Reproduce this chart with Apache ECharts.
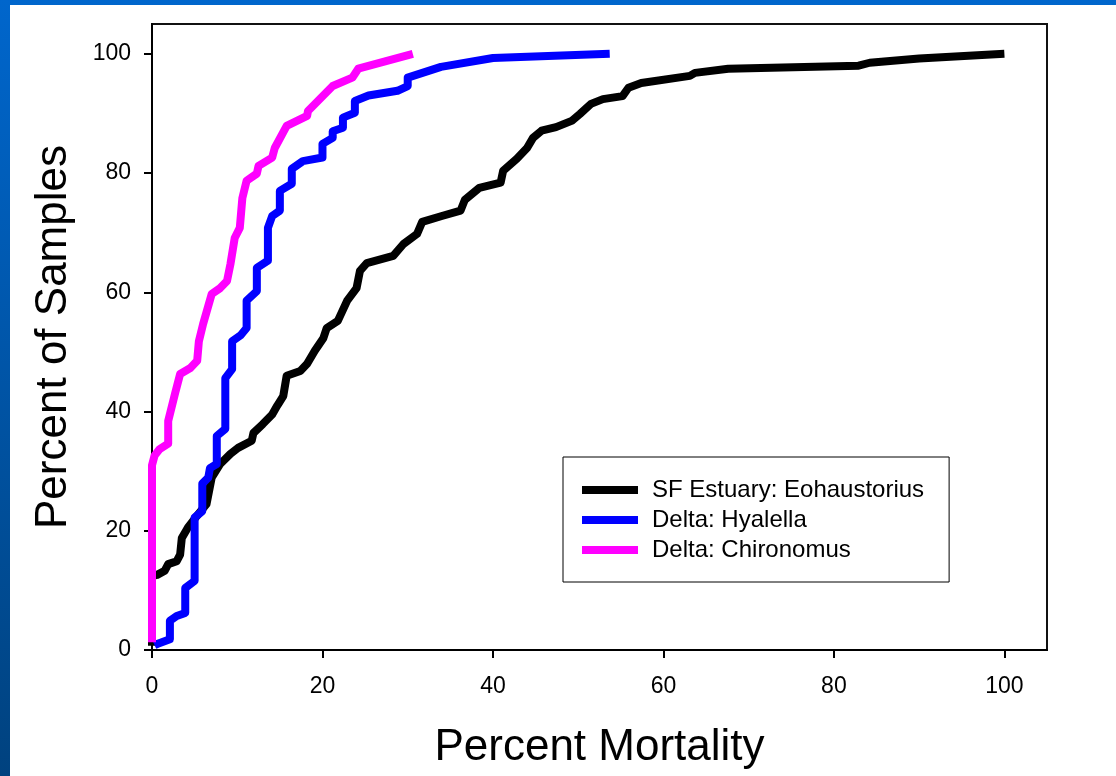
<!DOCTYPE html>
<html>
<head>
<meta charset="utf-8">
<title>Percent Mortality</title>
<script src="https://cdn.jsdelivr.net/npm/echarts@6/dist/echarts.min.js"></script>
<style>
  html, body { margin: 0; padding: 0; width: 1116px; height: 776px; overflow: hidden;
    background: linear-gradient(#0066cc, #00427f); }
  #chart { position: absolute; left: 10px; top: 5px; width: 1106px; height: 771px; background: #ffffff; }
</style>
</head>
<body>
<div id="chart"></div>
<script>
// Cumulative distribution of percent mortality per test organism: [mortality %, % of samples]
const seriesNames = ['SF Estuary: Eohaustorius', 'Delta: Hyalella', 'Delta: Chironomus'];
const seriesColors = ['#000000', '#0000ff', '#ff00ff'];

const eohaustorius = [
  [0, 0.7], [0, 12.4], [0.6, 12.6], [1.5, 13.3], [1.9, 14.4], [2.9, 14.9], [3.3, 16], [3.5, 18.8],
  [4.2, 20.5], [5, 22], [6.4, 24.5], [7, 28.9], [8, 31.2], [9.2, 32.9], [10.1, 33.9], [11.7, 35.1],
  [11.9, 36.4], [13, 37.9], [14.1, 39.5], [14.7, 41], [15.4, 42.6], [15.8, 46], [17.4, 46.8],
  [18.2, 48], [19.1, 50.2], [20.1, 52.3], [20.5, 54], [21.8, 55.2], [22.9, 58.6], [24, 60.7],
  [24.4, 63.6], [25.2, 64.9], [28.3, 66.1], [29.5, 68.1], [31.1, 69.8], [31.7, 71.8], [34, 72.8],
  [36.2, 73.7], [36.7, 75.5], [38.4, 77.5], [40.9, 78.4], [41.2, 80.4], [42.8, 82.4], [44, 84.2],
  [44.7, 85.9], [45.7, 87.1], [47.4, 87.7], [49.3, 88.8], [50.2, 89.9], [51.5, 91.6], [52.9, 92.4],
  [55.2, 92.9], [55.9, 94.3], [57.4, 95.1], [63.1, 96.3], [63.7, 96.8], [67.6, 97.5], [82.9, 98],
  [84.2, 98.5], [90, 99.2], [100, 100]
];

const hyalella = [
  [0.3, 0.8], [0.6, 1], [2.1, 1.8], [2.1, 4.9], [2.9, 5.7], [3.9, 6.2], [3.9, 10.4], [5, 11.6],
  [5, 22.2], [5.9, 23.3], [5.9, 27.9], [6.6, 28.9], [6.8, 30.5], [7.6, 31.2], [7.6, 35.9],
  [8.6, 37.1], [8.6, 45.6], [9.4, 47.1], [9.4, 51.8], [10.4, 52.8], [11.1, 54], [11.1, 58.6],
  [12.3, 60.2], [12.3, 64.1], [13.6, 65.3], [13.6, 70.8], [14.1, 72.8], [15, 73.7], [15, 77],
  [16.4, 78.2], [16.4, 80.7], [17.7, 82], [20, 82.6], [20, 84.9], [21.2, 85.9], [21.2, 87],
  [22.4, 87.6], [22.4, 89.3], [23.8, 90.1], [23.8, 92.1], [25.4, 93], [28.8, 93.8], [30, 94.6],
  [30, 96], [33.9, 97.8], [40, 99.3], [53.7, 100]
];

const chironomus = [
  [0, 1.3], [0, 31], [0.3, 32.6], [0.9, 33.7], [1.9, 34.6], [1.9, 38.4], [2.7, 43], [3.3, 46.3],
  [4.5, 47.3], [5.3, 48.5], [5.5, 51.8], [6, 54.7], [7, 59.7], [8, 60.7], [8.8, 61.9], [9.2, 64.7],
  [9.7, 69.1], [10.3, 70.8], [10.6, 75.8], [11.1, 78.7], [12.3, 79.9], [12.5, 81.2], [14.1, 82.6],
  [14.4, 84.2], [15.8, 87.9], [18.2, 89.6], [18.3, 90.4], [21.2, 94.6], [23.5, 96], [24.2, 97.5],
  [30.6, 100]
];

const xTicks = [0, 20, 40, 60, 80, 100];
const yTicks = [0, 20, 40, 60, 80, 100];
const xTitle = 'Percent Mortality';
const yTitle = 'Percent of Samples';

const seriesData = [eohaustorius, hyalella, chironomus];
const font = "'Liberation Sans', Arial, Helvetica, sans-serif";

const chart = echarts.init(document.getElementById('chart'), null, { renderer: 'canvas' });

const axisCommon = {
  type: 'value',
  min: 0,
  max: 105,
  nameLocation: 'middle',
  nameTextStyle: { fontSize: 44, color: '#000', fontFamily: font },
  axisLine: { show: true, lineStyle: { color: '#000', width: 2 } },
  axisTick: { show: true, inside: false, length: 8, lineStyle: { color: '#000', width: 2 } },
  axisLabel: { fontSize: 23, color: '#000', fontFamily: font, margin: 20 },
  splitLine: { show: false }
};

chart.setOption({
  animation: false,
  textStyle: { fontFamily: font, color: '#000' },
  grid: {
    left: 142, top: 19, width: 895, height: 626,
    show: true, borderColor: '#111', borderWidth: 2, backgroundColor: 'transparent'
  },
  xAxis: Object.assign({}, axisCommon, {
    name: xTitle,
    nameGap: 76,
    axisTick: Object.assign({}, axisCommon.axisTick, { customValues: xTicks }),
    axisLabel: Object.assign({}, axisCommon.axisLabel, { customValues: xTicks, margin: 25 })
  }),
  yAxis: Object.assign({}, axisCommon, {
    name: yTitle,
    nameGap: 76,
    axisTick: Object.assign({}, axisCommon.axisTick, { customValues: yTicks }),
    axisLabel: Object.assign({}, axisCommon.axisLabel, { customValues: yTicks, margin: 21 })
  }),
  legend: {
    left: 553, top: 452,
    orient: 'vertical',
    data: seriesNames,
    icon: 'rect',
    itemWidth: 56,
    itemHeight: 8,
    itemGap: 6,
    padding: [21, 25, 20, 19],
    backgroundColor: '#fff',
    borderColor: '#000',
    borderWidth: 1,
    borderRadius: 0,
    selectedMode: false,
    textStyle: { fontSize: 24, color: '#000', fontFamily: font, padding: [0, 0, 0, 9] }
  },
  series: seriesNames.map((name, i) => ({
    name: name,
    type: 'line',
    data: seriesData[i],
    showSymbol: false,
    symbol: 'none',
    smooth: false,
    color: seriesColors[i],
    itemStyle: { color: seriesColors[i] },
    lineStyle: { color: seriesColors[i], width: 8, cap: 'butt', join: 'round' },
    emphasis: { disabled: true },
    z: 2 + i
  }))
});
</script>
</body>
</html>
